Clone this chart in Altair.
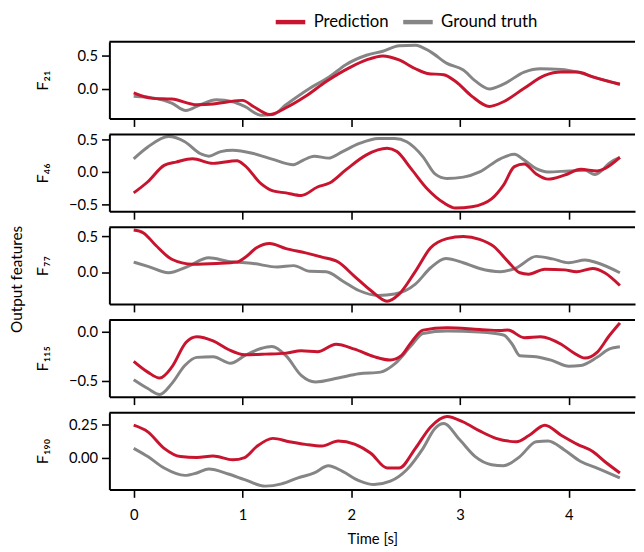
import altair as alt
import pandas as pd

RED = "#c8142e"
GRAY = "#858585"
FONT = "Lato"

# ---- data ----
t_f21_pred = [0, 0.17, 0.35, 0.58, 0.73, 0.87, 1.0, 1.10, 1.25, 1.40, 1.58, 1.77, 1.99, 2.14, 2.29, 2.44, 2.59, 2.70, 2.85, 2.96, 3.11, 3.27, 3.40, 3.59, 3.78, 3.93, 4.08, 4.22, 4.47]
v_f21_pred = [-0.06, -0.14, -0.15, -0.235, -0.225, -0.19, -0.17, -0.26, -0.38, -0.28, -0.11, 0.11, 0.32, 0.43, 0.49, 0.43, 0.30, 0.23, 0.21, 0.11, -0.11, -0.26, -0.19, 0.01, 0.20, 0.25, 0.25, 0.18, 0.07]
t_f21_true = [0, 0.20, 0.35, 0.48, 0.61, 0.76, 0.91, 1.02, 1.17, 1.28, 1.40, 1.62, 1.80, 1.95, 2.14, 2.29, 2.44, 2.59, 2.73, 2.88, 3.03, 3.14, 3.27, 3.40, 3.59, 3.74, 3.93, 4.08, 4.26, 4.47]
v_f21_true = [-0.11, -0.14, -0.21, -0.32, -0.235, -0.16, -0.19, -0.26, -0.39, -0.38, -0.235, 0.01, 0.18, 0.36, 0.50, 0.56, 0.64, 0.65, 0.55, 0.38, 0.28, 0.12, 0.0, 0.07, 0.25, 0.30, 0.29, 0.25, 0.16, 0.07]

t_f46_pred = [0, 0.13, 0.28, 0.39, 0.54, 0.73, 0.95, 1.02, 1.17, 1.28, 1.40, 1.54, 1.69, 1.80, 1.95, 2.14, 2.33, 2.42, 2.55, 2.70, 2.85, 2.96, 3.11, 3.29, 3.40, 3.50, 3.59, 3.70, 3.81, 3.96, 4.11, 4.26, 4.33, 4.47]
v_f46_pred = [-0.32, -0.15, 0.10, 0.15, 0.20, 0.13, 0.17, 0.10, -0.18, -0.29, -0.32, -0.36, -0.23, -0.17, 0.03, 0.26, 0.36, 0.31, 0.05, -0.26, -0.47, -0.55, -0.53, -0.41, -0.20, 0.08, 0.12, -0.03, -0.11, -0.05, 0.04, 0.015, 0.05, 0.22]
t_f46_true = [0, 0.13, 0.32, 0.47, 0.61, 0.69, 0.80, 0.91, 1.10, 1.28, 1.47, 1.56, 1.66, 1.79, 1.92, 2.07, 2.25, 2.40, 2.51, 2.66, 2.77, 2.88, 3.03, 3.18, 3.37, 3.50, 3.59, 3.70, 3.81, 4.00, 4.15, 4.24, 4.30, 4.37, 4.47]
v_f46_true = [0.20, 0.38, 0.54, 0.46, 0.28, 0.24, 0.31, 0.33, 0.28, 0.19, 0.11, 0.18, 0.24, 0.21, 0.31, 0.43, 0.51, 0.51, 0.46, 0.23, -0.03, -0.10, -0.08, 0.0, 0.20, 0.27, 0.18, 0.05, 0.0, 0.015, 0.025, -0.04, 0.015, 0.13, 0.22]

t_f77_pred = [0, 0.09, 0.20, 0.35, 0.54, 0.76, 0.95, 1.02, 1.13, 1.25, 1.40, 1.58, 1.73, 1.88, 2.03, 2.18, 2.33, 2.44, 2.59, 2.73, 2.88, 3.03, 3.18, 3.31, 3.44, 3.55, 3.63, 3.78, 3.96, 4.07, 4.22, 4.33, 4.47]
v_f77_pred = [0.59, 0.55, 0.38, 0.18, 0.11, 0.12, 0.14, 0.20, 0.34, 0.40, 0.33, 0.27, 0.21, 0.14, -0.06, -0.26, -0.41, -0.31, 0.01, 0.34, 0.47, 0.50, 0.46, 0.36, 0.15, -0.01, -0.03, 0.04, 0.03, 0.005, 0.05, -0.01, -0.19]
t_f77_true = [0, 0.13, 0.32, 0.50, 0.69, 0.87, 1.10, 1.32, 1.47, 1.62, 1.77, 1.92, 2.07, 2.25, 2.40, 2.59, 2.73, 2.87, 3.03, 3.18, 3.37, 3.52, 3.70, 3.85, 4.00, 4.15, 4.26, 4.47]
v_f77_true = [0.14, 0.08, -0.01, 0.08, 0.20, 0.15, 0.12, 0.07, 0.09, 0.01, 0.005, -0.125, -0.26, -0.33, -0.31, -0.17, 0.06, 0.19, 0.13, 0.05, 0.005, 0.06, 0.22, 0.185, 0.13, 0.17, 0.13, -0.01]

t_f115_pred = [0, 0.13, 0.24, 0.35, 0.48, 0.58, 0.73, 0.87, 1.02, 1.21, 1.40, 1.54, 1.69, 1.86, 2.03, 2.21, 2.36, 2.46, 2.55, 2.66, 2.88, 3.18, 3.37, 3.44, 3.59, 3.74, 3.93, 4.04, 4.15, 4.26, 4.37, 4.47]
v_f115_pred = [-0.30, -0.41, -0.47, -0.36, -0.11, -0.05, -0.093, -0.18, -0.233, -0.227, -0.217, -0.193, -0.203, -0.127, -0.177, -0.253, -0.287, -0.243, -0.11, 0.017, 0.04, 0.023, 0.013, 0.017, -0.06, -0.05, -0.127, -0.21, -0.267, -0.21, -0.043, 0.09]
t_f115_true = [0, 0.13, 0.24, 0.35, 0.47, 0.58, 0.73, 0.89, 1.02, 1.17, 1.27, 1.40, 1.54, 1.67, 1.88, 2.07, 2.27, 2.40, 2.55, 2.66, 2.88, 3.18, 3.40, 3.48, 3.55, 3.70, 3.85, 4.00, 4.11, 4.26, 4.37, 4.47]
v_f115_true = [-0.487, -0.577, -0.637, -0.527, -0.343, -0.26, -0.253, -0.32, -0.243, -0.17, -0.15, -0.243, -0.443, -0.51, -0.47, -0.427, -0.41, -0.327, -0.143, -0.017, 0.007, -0.003, -0.033, -0.127, -0.243, -0.253, -0.293, -0.35, -0.343, -0.26, -0.177, -0.153]

t_f190_pred = [0, 0.13, 0.28, 0.43, 0.58, 0.73, 0.91, 1.02, 1.13, 1.28, 1.43, 1.58, 1.73, 1.88, 2.03, 2.18, 2.33, 2.44, 2.59, 2.73, 2.88, 3.03, 3.18, 3.33, 3.52, 3.63, 3.78, 3.93, 4.08, 4.22, 4.33, 4.47]
v_f190_pred = [0.243, 0.193, 0.069, 0.007, 0.0, 0.012, -0.017, 0.0, 0.082, 0.144, 0.119, 0.099, 0.087, 0.124, 0.101, 0.032, -0.079, -0.079, 0.069, 0.23, 0.309, 0.267, 0.2, 0.144, 0.119, 0.163, 0.243, 0.168, 0.099, 0.045, -0.03, -0.116]
t_f190_true = [0, 0.13, 0.28, 0.47, 0.58, 0.69, 0.87, 1.02, 1.21, 1.36, 1.51, 1.66, 1.79, 1.92, 2.07, 2.21, 2.36, 2.51, 2.66, 2.77, 2.85, 3.00, 3.14, 3.29, 3.40, 3.55, 3.70, 3.81, 3.96, 4.11, 4.26, 4.47]
v_f190_true = [0.069, 0.007, -0.079, -0.134, -0.116, -0.087, -0.124, -0.166, -0.215, -0.198, -0.153, -0.116, -0.062, -0.104, -0.173, -0.203, -0.178, -0.092, 0.069, 0.218, 0.255, 0.131, 0.007, -0.054, -0.062, 0.007, 0.119, 0.124, 0.057, -0.03, -0.079, -0.153]

features = ["F₂₁", "F₄₆", "F₇₇", "F₁₁₅", "F₁₉₀"]
y_domains = [[-0.44, 0.70], [-0.60, 0.57], [-0.45, 0.63], [-0.66, 0.12], [-0.24, 0.337]]
y_ticks = [[0.0, 0.5], [-0.5, 0.0, 0.5], [0.0, 0.5], [-0.5, 0.0], [0.0, 0.25]]
y_formats = [".1f", ".1f", ".1f", ".1f", ".2f"]
x_ticks = [0, 1, 2, 3, 4]
x_domain = [-0.2235, 4.609]
series_names = ["Prediction", "Ground truth"]

preds = [(t_f21_pred, v_f21_pred), (t_f46_pred, v_f46_pred), (t_f77_pred, v_f77_pred),
         (t_f115_pred, v_f115_pred), (t_f190_pred, v_f190_pred)]
trues = [(t_f21_true, v_f21_true), (t_f46_true, v_f46_true), (t_f77_true, v_f77_true),
         (t_f115_true, v_f115_true), (t_f190_true, v_f190_true)]

W, H = 534, 78
color_scale = alt.Scale(domain=series_names, range=[RED, GRAY])


def panel(i):
    last = i == len(features) - 1
    xaxis = alt.Axis(values=x_ticks, labels=last, title="Time [s]" if last else None,
                     format="d", labelFontSize=15, titleFontSize=15, titlePadding=9,
                     labelPadding=11)
    yaxis = alt.Axis(values=y_ticks[i], format=y_formats[i], title=features[i],
                     titleX=-60, titleFontSize=16.5, labelFontSize=15)
    x = alt.X("t:Q", scale=alt.Scale(domain=x_domain, nice=False, zero=False), axis=xaxis)
    y = alt.Y("v:Q", scale=alt.Scale(domain=y_domains[i], nice=False, zero=False), axis=yaxis)
    col = alt.Color("series:N", scale=color_scale,
                    legend=alt.Legend(title=None) if i == 0 else None)
    df_true = pd.DataFrame({"t": trues[i][0], "v": trues[i][1], "series": "Ground truth"})
    df_pred = pd.DataFrame({"t": preds[i][0], "v": preds[i][1], "series": "Prediction"})
    l_true = alt.Chart(df_true).mark_line(strokeWidth=3, interpolate="monotone").encode(x=x, y=y, color=col)
    l_pred = alt.Chart(df_pred).mark_line(strokeWidth=3, interpolate="monotone").encode(x=x, y=y, color=col)
    top = alt.Chart(pd.DataFrame({"a": [0]})).mark_rule(color="black", strokeWidth=2).encode(
        x=alt.value(0), x2=alt.value(W), y=alt.value(0))
    return alt.layer(l_true, l_pred, top).properties(width=W, height=H)


chart = alt.vconcat(*[panel(i) for i in range(len(features))], spacing=16.2, bounds="flush").properties(
    title=alt.TitleParams("Output features", orient="left", anchor="middle", fontSize=15.5,
                          font=FONT, fontWeight="normal", color="black", offset=9.5),
    padding={"left": 2, "top": 0, "right": 0, "bottom": 0},
).configure_view(stroke=None).configure_axis(
    grid=False, domainColor="black", domainWidth=2, tickColor="black", tickWidth=1.6,
    tickSize=8, labelColor="black", titleColor="black", labelFont=FONT, titleFont=FONT,
    titleFontWeight="normal", labelPadding=4,
).configure_legend(
    orient="none", legendX=174, legendY=-30, direction="horizontal", symbolType="M-2,0H2",
    symbolStrokeWidth=4.5, symbolSize=225, labelFontSize=17, labelFont=FONT,
    labelColor="black", columnPadding=5.5, labelOffset=13.5, padding=0,
)

chart.save("out.html", embed_options={"renderer": "svg", "actions": False})
